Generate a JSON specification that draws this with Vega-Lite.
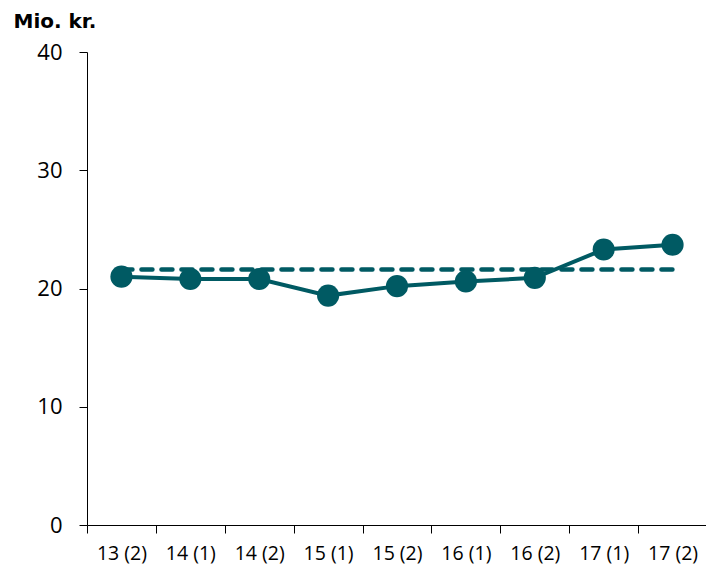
{
  "$schema": "https://vega.github.io/schema/vega-lite/v6.json",
  "width": 620,
  "height": 473,
  "autosize": {"type": "none"},
  "padding": {"left": 87, "top": 52, "right": 0, "bottom": 48},
  "background": "white",
  "config": {
    "view": {"stroke": null},
    "axis": {"grid": false, "domainColor": "#000000", "tickColor": "#000000", "domainWidth": 1, "tickWidth": 1, "labelColor": "#000000", "labelFont": "Open Sans"}
  },
  "data": {
    "values": [
      {"period": "13 (2)", "value": 21.0, "avg": 21.6},
      {"period": "14 (1)", "value": 20.8, "avg": 21.6},
      {"period": "14 (2)", "value": 20.8, "avg": 21.6},
      {"period": "15 (1)", "value": 19.4, "avg": 21.6},
      {"period": "15 (2)", "value": 20.2, "avg": 21.6},
      {"period": "16 (1)", "value": 20.6, "avg": 21.6},
      {"period": "16 (2)", "value": 20.9, "avg": 21.6},
      {"period": "17 (1)", "value": 23.3, "avg": 21.6},
      {"period": "17 (2)", "value": 23.7, "avg": 21.6}
    ]
  },
  "encoding": {
    "x": {
      "field": "period", "type": "ordinal", "sort": null,
      "scale": {"paddingInner": 0, "paddingOuter": 0},
      "axis": {"title": null, "labelAngle": 0, "tickBand": "extent", "tickSize": 8, "labelPadding": 11, "labelFontSize": 19.5}
    }
  },
  "layer": [
    {
      "mark": {"type": "line", "color": "#005A63", "strokeWidth": 4.5, "strokeDash": [11, 9], "strokeCap": "round"},
      "encoding": {
        "y": {"field": "avg", "type": "quantitative"}
      }
    },
    {
      "mark": {"type": "line", "color": "#005A63", "strokeWidth": 4},
      "encoding": {
        "y": {
          "field": "value", "type": "quantitative",
          "scale": {"domain": [0, 40], "nice": false},
          "axis": {
            "values": [0, 10, 20, 30, 40], "tickSize": 8, "labelPadding": 17, "labelFontSize": 22,
            "title": "Mio. kr.", "titleAngle": 0, "titleX": -74, "titleY": -25, "titleAlign": "left",
            "titleBaseline": "alphabetic", "titleFont": "DejaVu Sans", "titleFontSize": 20, "titleFontWeight": "bold", "titleColor": "#000000"
          }
        }
      }
    },
    {
      "mark": {"type": "circle", "color": "#005A63", "opacity": 1, "size": 490},
      "encoding": {
        "y": {"field": "value", "type": "quantitative"}
      }
    }
  ]
}
